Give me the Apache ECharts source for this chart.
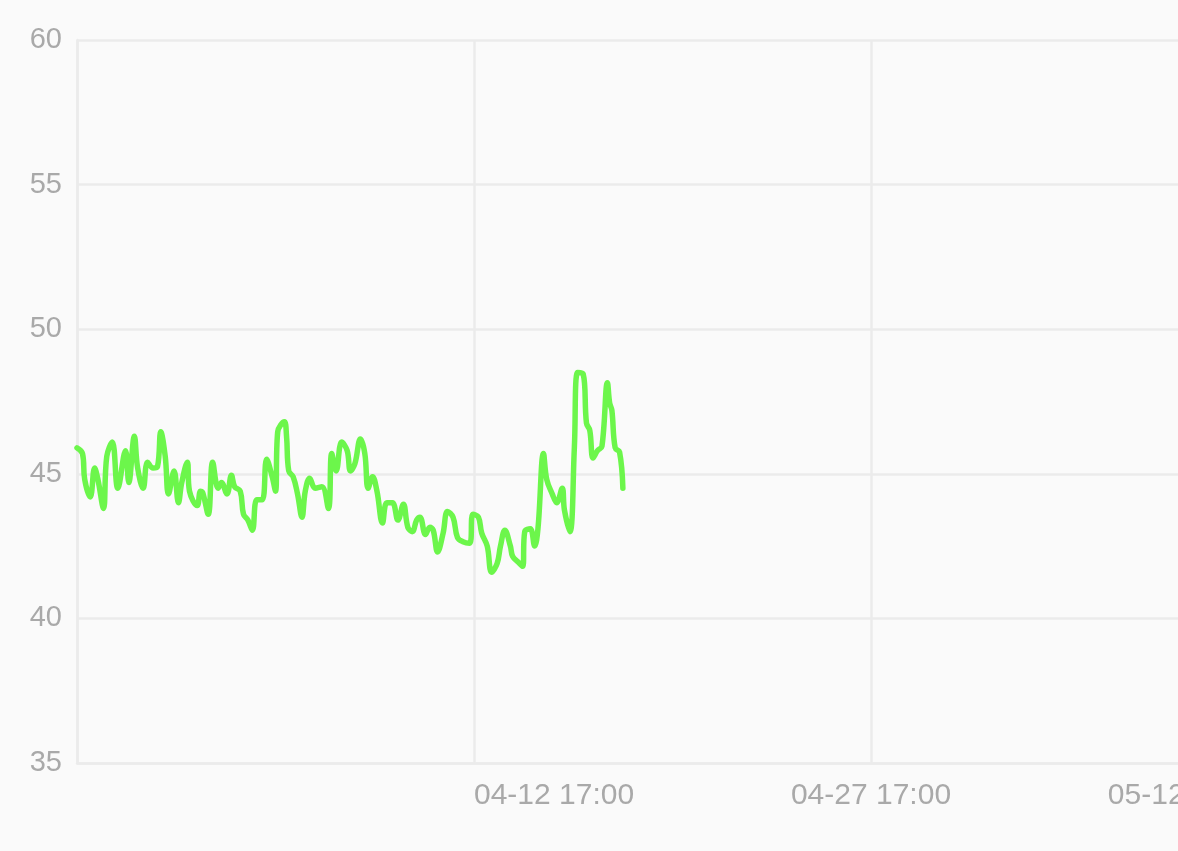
<!DOCTYPE html>
<html>
<head>
<meta charset="utf-8">
<script src="https://cdn.jsdelivr.net/npm/echarts@6/dist/echarts.min.js"></script>
<style>
  html, body { margin: 0; padding: 0; background: #fafafa; overflow: hidden; width: 1178px; height: 851px; }
  #chart { width: 1300px; height: 851px; }
</style>
</head>
<body>
<div id="chart"></div>
<script>
// Start of the x axis: 03-28 17:00 (hour 0)
const startTime = Date.UTC(2024, 2, 28, 17, 0);
// Hours since start for each reading
const hours = [0, 5, 7, 12, 16, 19, 24, 27, 32, 37, 44, 47, 52, 55, 60, 64, 69, 73, 76, 80,
  83, 88, 92, 95, 100, 102, 109, 112, 114, 119, 123, 128, 131, 136, 140, 143, 148, 151, 155, 159,
  163, 168, 172, 177, 180, 182, 188, 190, 192, 196, 200, 204, 207, 211, 216, 222, 228, 231, 235, 240,
  245, 248, 252, 257, 261, 264, 268, 272, 277, 281, 286, 291, 296, 300, 304, 308, 311, 316, 320, 323,
  327, 332, 336, 341, 345, 350, 356, 359, 364, 367, 372, 376, 381, 384, 388, 393, 395, 400, 404, 406,
  411, 415, 418, 423, 426, 431, 435, 440, 442, 447, 451, 454, 459, 462, 465, 468, 472, 476, 481, 483,
  485, 488, 492, 495];
const values = [45.9, 45.7, 44.8, 44.2, 45.2, 44.8, 43.8, 45.6, 46.1, 44.5, 45.8, 44.7, 46.3, 45.2, 44.5, 45.4, 45.2, 45.25, 46.45, 45.6,
  44.3, 45.1, 44.0, 44.7, 45.4, 44.4, 43.9, 44.4, 44.35, 43.6, 45.4, 44.5, 44.7, 44.3, 44.95, 44.55, 44.4, 43.6, 43.4, 43.05,
  44.1, 44.1, 45.5, 44.9, 44.4, 46.45, 46.8, 46.3, 45.1, 44.9, 44.3, 43.5, 44.4, 44.85, 44.5, 44.55, 43.8, 45.7, 45.1, 46.1,
  45.8, 45.1, 45.35, 46.2, 45.7, 44.5, 44.9, 44.4, 43.3, 44.0, 44.0, 43.4, 43.95, 43.15, 43.0, 43.4, 43.5, 42.9, 43.15, 43.05,
  42.3, 42.95, 43.7, 43.5, 42.8, 42.65, 42.6, 43.6, 43.5, 42.95, 42.5, 41.6, 41.9, 42.5, 43.05, 42.5, 42.15, 41.95, 41.8, 43.0,
  43.1, 42.5, 43.1, 45.7, 44.8, 44.3, 44.0, 44.5, 43.75, 43.0, 45.9, 48.5, 48.45, 46.75, 46.5, 45.55, 45.8, 45.95, 48.15, 47.45,
  47.2, 45.9, 45.75, 44.5];
const yTicks = [35, 40, 45, 50, 55, 60];
const xTickHours = [360, 720, 1080];

const pad = n => (n < 10 ? '0' : '') + n;
function fmt(h) {
  const d = new Date(startTime + h * 3600000);
  return pad(d.getUTCMonth() + 1) + '-' + pad(d.getUTCDate()) + ' ' + pad(d.getUTCHours()) + ':' + pad(d.getUTCMinutes());
}
const xFont = 30, fontFam = '"Liberation Sans", Helvetica, Arial, sans-serif';
const textColor = '#a9a9a9';
const gridColor = '#ebebeb';
const cv = document.createElement('canvas').getContext('2d');
cv.font = xFont + 'px ' + fontFam;
const firstW = cv.measureText(fmt(xTickHours[0])).width;
const lastW = cv.measureText(fmt(xTickHours[xTickHours.length - 1])).width;

const chart = echarts.init(document.getElementById('chart'), null, { renderer: 'canvas' });
chart.setOption({
  backgroundColor: '#fafafa',
  animation: false,
  grid: { left: 77, right: 32, top: 40, bottom: 88 },
  xAxis: {
    type: 'value',
    min: 0, max: 1080, interval: 360,
    axisLine: { show: true, lineStyle: { color: gridColor, width: 2.5 } },
    axisTick: { show: false },
    splitLine: { show: true, lineStyle: { color: gridColor, width: 2.5 } },
    axisLabel: {
      showMinLabel: false,
      margin: 18,
      color: textColor,
      fontSize: xFont,
      fontFamily: fontFam,
      formatter: function (v) {
        const t = fmt(v);
        if (v === xTickHours[0]) return '{l|' + t + '}';
        if (v === xTickHours[xTickHours.length - 1]) return '{r|' + t + '}';
        return t;
      },
      rich: {
        l: { padding: [0, 0, 0, firstW], fontSize: xFont, fontFamily: fontFam, color: textColor },
        r: { padding: [0, lastW, 0, 0], fontSize: xFont, fontFamily: fontFam, color: textColor }
      }
    }
  },
  yAxis: {
    type: 'value',
    min: yTicks[0], max: yTicks[yTicks.length - 1], interval: 5,
    axisLine: { show: true, lineStyle: { color: gridColor, width: 2.5 } },
    axisTick: { show: false },
    splitLine: { show: true, lineStyle: { color: gridColor, width: 2.5 } },
    axisLabel: { margin: 15, color: textColor, fontSize: 29, fontFamily: fontFam }
  },
  series: [{
    type: 'line',
    data: hours.map((h, i) => [h, values[i]]),
    showSymbol: false,
    smooth: 0.4,
    lineStyle: { color: '#6cf64b', width: 5.5, cap: 'round', join: 'round' },
    itemStyle: { color: '#6cf64b' }
  }]
});
</script>
</body>
</html>
